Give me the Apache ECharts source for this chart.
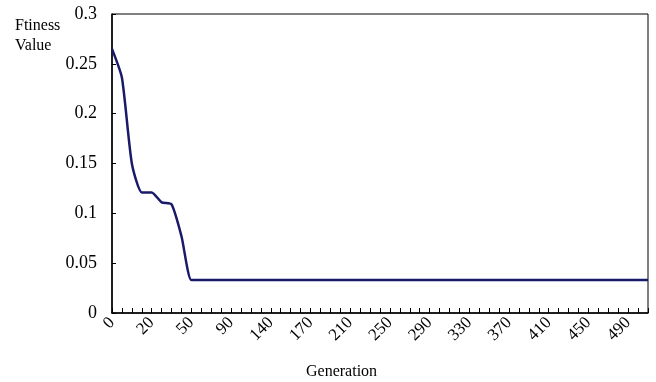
<!DOCTYPE html>
<html>
<head>
<meta charset="utf-8">
<script src="https://cdn.jsdelivr.net/npm/echarts@6/dist/echarts.min.js"></script>
<style>
html,body{margin:0;padding:0;background:#fff;}
#c{width:656px;height:382px;}
</style>
</head>
<body>
<div id="c"></div>
<script>
var generations = [0,5,10,15,20,27,35,42,50,60,70,80,90,102,115,128,140,148,155,162,170,
  180,190,200,210,220,230,240,250,260,270,280,290,300,310,320,330,340,350,360,370,
  380,390,400,410,420,430,440,450,460,470,480,490,500,510];
var fitness = [0.265,0.236,0.150,0.121,0.121,0.111,0.109,0.077,0.033,
  0.033,0.033,0.033,0.033,0.033,0.033,0.033,0.033,0.033,0.033,0.033,0.033,
  0.033,0.033,0.033,0.033,0.033,0.033,0.033,0.033,0.033,0.033,0.033,0.033,
  0.033,0.033,0.033,0.033,0.033,0.033,0.033,0.033,0.033,0.033,0.033,0.033,
  0.033,0.033,0.033,0.033,0.033,0.033,0.033,0.033,0.033,0.033];
var yTitle = 'Ftiness\nValue';
var xTitle = 'Generation';

var font = 'Liberation Serif';
var chart = echarts.init(document.getElementById('c'));
chart.setOption({
  animation: false,
  backgroundColor: '#fff',
  grid: {left: 112, right: 8, top: 14, bottom: 69, show: true, borderColor: '#000', borderWidth: 1},
  xAxis: {
    type: 'category',
    data: generations.map(String),
    boundaryGap: false,
    axisLine: {lineStyle: {color: '#000', width: 1.5}},
    axisTick: {show: true, inside: true, length: 5, interval: 0, lineStyle: {color: '#000'}},
    axisLabel: {interval: 3, rotate: 45, color: '#000', fontFamily: font, fontSize: 17, margin: 7},
    splitLine: {show: false}
  },
  yAxis: {
    type: 'value',
    min: 0, max: 0.3, interval: 0.05,
    axisLine: {show: true, lineStyle: {color: '#000', width: 1.5}},
    axisTick: {show: true, inside: true, length: 4, lineStyle: {color: '#000'}},
    axisLabel: {color: '#000', fontFamily: font, fontSize: 18, margin: 15},
    splitLine: {show: false}
  },
  graphic: [
    {type: 'text', left: 15, top: 16, style: {text: yTitle, font: '16px "Liberation Serif"', fill: '#000', lineHeight: 20}},
    {type: 'text', left: 306, top: 364, style: {text: xTitle, font: '16px "Liberation Serif"', fill: '#000'}}
  ],
  series: [{
    type: 'line',
    data: fitness,
    showSymbol: false,
    smooth: 0.2,
    lineStyle: {color: '#1a1a6b', width: 2.5},
    itemStyle: {color: '#1a1a6b'}
  }]
});
</script>
</body>
</html>
